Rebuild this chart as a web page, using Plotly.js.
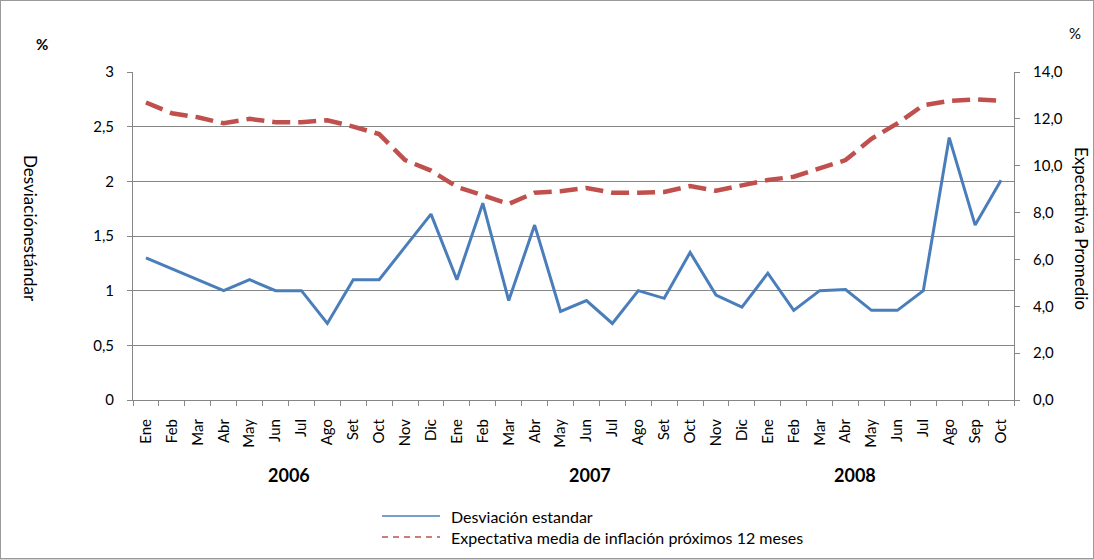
<!DOCTYPE html>
<html>
<head>
<meta charset="utf-8">
<script src="https://cdn.plot.ly/plotly-3.0.1.min.js"></script>
<style>
html,body{margin:0;padding:0;background:#fff;}
#wrap{position:relative;width:1094px;height:559px;}
#chart{width:1094px;height:559px;}
#frame{position:absolute;left:0;top:0;width:1094px;height:559px;box-sizing:border-box;border:1px solid #9a9a9a;pointer-events:none;}
</style>
</head>
<body>
<div id="wrap"><div id="chart"></div><div id="frame"></div></div>
<script>
const months = ["Ene","Feb","Mar","Abr","May","Jun","Jul","Ago","Set","Oct","Nov","Dic",
                "Ene","Feb","Mar","Abr","May","Jun","Jul","Ago","Set","Oct","Nov","Dic",
                "Ene","Feb","Mar","Abr","May","Jun","Jul","Ago","Sep","Oct"];
const years = ["2006","2007","2008"];
const seriesNames = ["Desviación estandar","Expectativa media de inflación próximos 12 meses"];
const desviacion = [1.30,1.20,1.10,1.00,1.10,1.00,1.00,0.70,1.10,1.10,1.40,1.70,
                    1.10,1.80,0.91,1.60,0.81,0.91,0.70,1.00,0.93,1.35,0.96,0.85,
                    1.16,0.82,1.00,1.01,0.82,0.82,1.00,2.40,1.60,2.01];
const expectativa = [12.7,12.24,12.07,11.81,12.0,11.86,11.86,11.94,11.67,11.35,10.24,9.79,
                     9.1,8.74,8.37,8.85,8.91,9.05,8.85,8.85,8.88,9.13,8.93,9.16,
                     9.39,9.53,9.87,10.24,11.15,11.81,12.58,12.77,12.83,12.77];

const idx = months.map((m,i)=>i);
const FONT = "Lato, 'Open Sans', sans-serif";
const GRID = "#868686";
const BLUE = "#4a7ebb", RED = "#c0504d";

// plot area in px: x 133..1014, y 72..400
const PX = x => (x-133)/881;
const PY = y => (400-y)/328;

const traces = [
  {x: idx, y: desviacion, type:"scatter", mode:"lines", name:seriesNames[0],
   line:{color:BLUE, width:3}, yaxis:"y"},
  {x: idx, y: expectativa, type:"scatter", mode:"lines", name:seriesNames[1],
   line:{color:RED, width:4.5, dash:"18px,8px"}, yaxis:"y2"}
];

function ann(text, x, y, size, extra){
  return Object.assign({text:text, xref:"paper", yref:"paper", x:PX(x), y:PY(y),
    xanchor:"center", yanchor:"middle", showarrow:false, font:{family:FONT, size:size, color:"#000"}}, extra||{});
}

const layout = {
  width:1094, height:559,
  margin:{l:133, r:80, t:72, b:159, autoexpand:false},
  paper_bgcolor:"#fff", plot_bgcolor:"#fff",
  separators:",.",
  font:{family:FONT, size:15, color:"#000"},
  showlegend:false,
  xaxis:{range:[-0.5, 33.5], tickmode:"array", tickvals:idx, ticktext:months,
         tickangle:-90, ticks:"", showgrid:false, zeroline:false, ticklabelstandoff:12,
         showline:true, linecolor:GRID, linewidth:1, automargin:false,
         tickfont:{family:FONT, size:15},
         minor:{tickmode:"linear", tick0:-0.5, dtick:1, ticks:"outside", ticklen:5, tickcolor:GRID, showgrid:false}},
  yaxis:{range:[0,3], dtick:0.5, tick0:0, showgrid:true, gridcolor:GRID, gridwidth:1,
         zeroline:false, showline:true, linecolor:GRID, linewidth:1, automargin:false,
         ticks:"outside", ticklen:5, tickcolor:GRID, ticklabelstandoff:10, tickfont:{family:FONT, size:15}},
  yaxis2:{range:[0,14], dtick:2, tick0:0, tickformat:".1f", overlaying:"y", side:"right",
          showgrid:false, zeroline:false, showline:true, linecolor:GRID, linewidth:1, automargin:false,
          ticks:"outside", ticklen:5, tickcolor:GRID, ticklabelstandoff:10, tickfont:{family:FONT, size:15}},
  shapes:[
    {type:"line", xref:"paper", yref:"paper", x0:PX(382), x1:PX(440), y0:PY(516), y1:PY(516),
     line:{color:BLUE, width:1.5}},
    {type:"line", xref:"paper", yref:"paper", x0:PX(382), x1:PX(440), y0:PY(537), y1:PY(537),
     line:{color:RED, width:1.5, dash:"6px,5px"}}
  ],
  annotations:[
    ann("<b>%</b>", 42, 44, 15),
    ann("%", 1075, 33, 15),
    ann("Desviaciónestándar", 31, 228, 17, {textangle:90}),
    ann("Expectativa Promedio", 1082, 228, 17, {textangle:90}),
    ann("<b>"+years[0]+"</b>", 289, 475, 18),
    ann("<b>"+years[1]+"</b>", 590, 475, 18),
    ann("<b>"+years[2]+"</b>", 855, 475, 18),
    ann(seriesNames[0], 449, 516, 16, {xanchor:"left"}),
    ann(seriesNames[1], 449, 537, 16, {xanchor:"left"})
  ]
};

Plotly.newPlot("chart", traces, layout, {displayModeBar:false, staticPlot:true});
</script>
</body>
</html>
